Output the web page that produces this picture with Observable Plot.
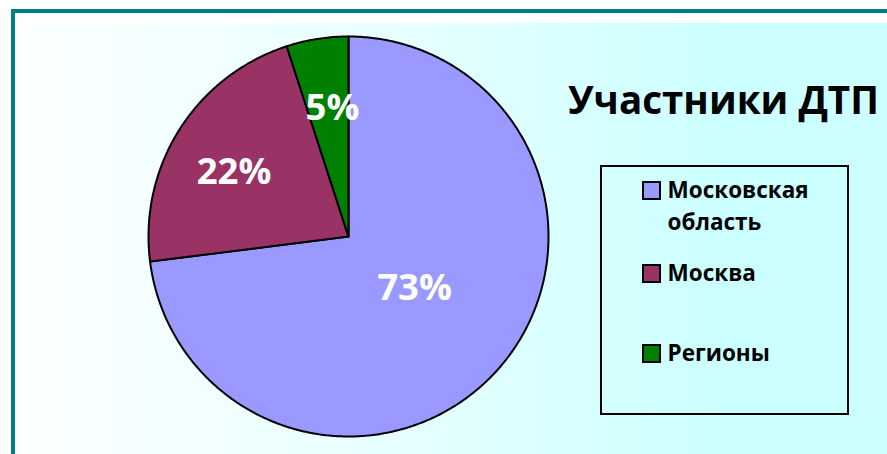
<!DOCTYPE html>
<html>
<head>
<meta charset="utf-8">
<script src="https://cdn.jsdelivr.net/npm/d3@7"></script>
<script src="https://cdn.jsdelivr.net/npm/@observablehq/plot@0.6"></script>
<style>
  html, body { margin: 0; padding: 0; background: #fff; }
  #wrap { position: relative; width: 887px; height: 454px; overflow: hidden; background: #fff; font-family: "Open Sans", sans-serif; }
  #frame { position: absolute; left: 11px; top: 9px; width: 900px; height: 460px; border-left: 4px solid #008080; border-top: 4px solid #008080; }
  #bg { position: absolute; left: 25px; top: 23px; right: 0; bottom: 0; background: linear-gradient(to right, #fbffff 0%, #e6ffff 45%, #ccffff 80%); }
  #chart { position: absolute; left: 0; top: 0; }
  #title { position: absolute; left: 568px; top: 72.5px; font-size: 38.6px; line-height: normal; font-weight: 700; color: #000; white-space: nowrap; }
  #legend { position: absolute; left: 600px; top: 165px; width: 245px; height: 246px; border: 2.5px solid #000; }
  .item { position: absolute; left: 39.5px; font-size: 22.5px; font-weight: 700; color: #000; line-height: 32px; }
  .sw { position: absolute; width: 15px; height: 15px; border: 2px solid #000; }
  .lbl { position: absolute; left: 26px; top: 0; white-space: nowrap; }
</style>
</head>
<body>
<div id="wrap">
  <div id="frame"></div>
  <div id="bg"></div>
  <div id="chart"></div>
  <div id="title"></div>
  <div id="legend"></div>
</div>
<script>
// Data
const categories = ["Московская область", "Москва", "Регионы"];
const legendLines = [["Московская", "область"], ["Москва"], ["Регионы"]];
const values = [73, 22, 5];
const labels = ["73%", "22%", "5%"];
const colors = ["#9999FF", "#993366", "#008000"];
const titleText = "Участники ДТП";

// Layout constants (label placement relative to slice mid-angle)
const labelRadius = [0.4186, 0.657, 0.6475];
const labelAngleShiftDeg = [-3.4, -3.0, 1.9];
const legendTops = [7, 89.5, 169.5];

// Pie geometry (angles from values, clockwise from 12 o'clock)
const pie = d3.pie().sort(null).startAngle(0).endAngle(2 * Math.PI)(values);
const pts = [];
pie.forEach((a, i) => {
  const name = categories[i];
  pts.push({name, x: 0, y: 0});
  const n = Math.max(2, Math.ceil((a.endAngle - a.startAngle) / 0.01));
  for (let k = 0; k <= n; k++) {
    const t = a.startAngle + (a.endAngle - a.startAngle) * k / n;
    pts.push({name, x: Math.sin(t), y: Math.cos(t)});
  }
});
const labelData = pie.map((a, i) => {
  const m = (a.startAngle + a.endAngle) / 2 + labelAngleShiftDeg[i] * Math.PI / 180;
  return {label: labels[i], x: labelRadius[i] * Math.sin(m), y: labelRadius[i] * Math.cos(m)};
});

const chart = Plot.plot({
  width: 887,
  height: 454,
  margin: 0,
  style: {background: "transparent", overflow: "visible"},
  x: {domain: [-1, 1], range: [148, 548], axis: null},
  y: {domain: [-1, 1], range: [436, 36], axis: null},
  color: {domain: categories, range: colors},
  marks: [
    Plot.line(pts, {x: "x", y: "y", z: "name", fill: "name", stroke: "#000", strokeWidth: 2, strokeLinejoin: "round", curve: "linear-closed"}),
    Plot.text(labelData, {x: "x", y: "y", text: "label", fill: "#fff", fontSize: 36.5, fontWeight: 700, fontFamily: "Open Sans"})
  ]
});
document.getElementById("chart").appendChild(chart);

document.getElementById("title").textContent = titleText;

const legend = document.getElementById("legend");
categories.forEach((c, i) => {
  const it = document.createElement("div");
  it.className = "item";
  it.style.top = legendTops[i] + "px";
  const sw = document.createElement("div");
  sw.className = "sw";
  sw.style.background = colors[i];
  sw.style.top = "7px";
  sw.style.left = "0px";
  it.appendChild(sw);
  const lb = document.createElement("div");
  lb.className = "lbl";
  lb.innerHTML = legendLines[i].join("<br>");
  it.appendChild(lb);
  legend.appendChild(it);
});
</script>
</body>
</html>
